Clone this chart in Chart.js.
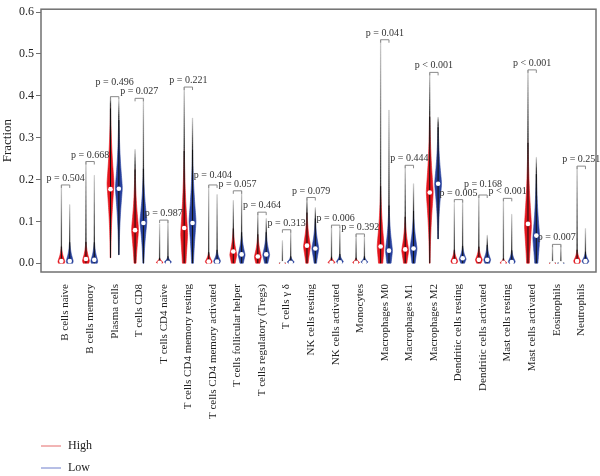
<!DOCTYPE html>
<html>
<head>
<meta charset="utf-8">
<script src="https://cdn.jsdelivr.net/npm/chart.js@4.4.1/dist/chart.umd.min.js"></script>
<style>
  html, body { margin: 0; background: #ffffff; }
</style>
</head>
<body>
<canvas id="chart" width="600" height="476"></canvas>
<script>
const categories = [
  "B cells naive", "B cells memory", "Plasma cells", "T cells CD8", "T cells CD4 naive",
  "T cells CD4 memory resting", "T cells CD4 memory activated", "T cells follicular helper",
  "T cells regulatory (Tregs)", "T cells γ δ", "NK cells resting", "NK cells activated",
  "Monocytes", "Macrophages M0", "Macrophages M1", "Macrophages M2", "Dendritic cells resting",
  "Dendritic cells activated", "Mast cells resting", "Mast cells activated", "Eosinophils", "Neutrophils"
];

// violin summaries (fraction units)
const highMax = [0.187, 0.243, 0.398, 0.272, 0.094, 0.421, 0.187, 0.150, 0.122, 0.054, 0.157, 0.091, 0.070, 0.534, 0.234, 0.456, 0.143, 0.163, 0.155, 0.462, 0.045, 0.232];
const lowMax  = [0.140, 0.210, 0.390, 0.394, 0.103, 0.347, 0.164, 0.173, 0.107, 0.080, 0.133, 0.085, 0.066, 0.366, 0.190, 0.349, 0.152, 0.067, 0.117, 0.253, 0.045, 0.083];
const highMin = [0, 0, 0.013, 0, 0, 0, 0, 0, 0, 0, 0, 0, 0, 0, 0, 0, 0, 0, 0, 0, 0, 0];
const lowMin  = [0, 0, 0.020, 0, 0, 0, 0, 0, 0, 0, 0, 0, 0, 0, 0, 0.058, 0, 0, 0, 0, 0, 0];
const highMedian = [0.005, 0.010, 0.177, 0.079, 0.001, 0.084, 0.004, 0.028, 0.016, 0.000, 0.042, 0.001, 0.001, 0.040, 0.033, 0.169, 0.005, 0.008, 0.001, 0.094, 0.000, 0.005];
const lowMedian  = [0.005, 0.008, 0.178, 0.096, 0.001, 0.096, 0.004, 0.021, 0.021, 0.001, 0.035, 0.002, 0.002, 0.030, 0.035, 0.190, 0.012, 0.008, 0.003, 0.066, 0.000, 0.005];
const highPeak = [0.004, 0.006, 0.190, 0.080, 0.002, 0.070, 0.004, 0.020, 0.015, 0.000, 0.040, 0.002, 0.002, 0.040, 0.030, 0.170, 0.005, 0.008, 0.001, 0.090, 0.000, 0.005];
const lowPeak  = [0.005, 0.005, 0.180, 0.100, 0.003, 0.100, 0.005, 0.020, 0.020, 0.003, 0.035, 0.004, 0.003, 0.030, 0.035, 0.190, 0.010, 0.008, 0.004, 0.060, 0.000, 0.005];
const highSpread = [0.040, 0.050, 0.200, 0.160, 0.012, 0.220, 0.025, 0.070, 0.060, 0.002, 0.090, 0.015, 0.012, 0.160, 0.090, 0.200, 0.030, 0.035, 0.012, 0.220, 0.002, 0.030];
const lowSpread  = [0.050, 0.050, 0.180, 0.140, 0.015, 0.190, 0.030, 0.060, 0.060, 0.015, 0.080, 0.020, 0.015, 0.120, 0.100, 0.150, 0.035, 0.040, 0.030, 0.170, 0.002, 0.025];
const pLabels = [
  "p = 0.504", "p = 0.668", "p = 0.496", "p = 0.027", "p = 0.987", "p = 0.221", "p = 0.404",
  "p = 0.057", "p = 0.464", "p = 0.313", "p = 0.079", "p = 0.006", "p = 0.392", "p = 0.041",
  "p = 0.444", "p < 0.001", "p = 0.005", "p = 0.168", "p < 0.001", "p < 0.001", "p = 0.007", "p = 0.251"
];
const yTicks = [0, 0.1, 0.2, 0.3, 0.4, 0.5, 0.6];

const SERIF = '"Liberation Serif", "Times New Roman", serif';
const HIGH_COLOR = "#e3141c";
const LOW_COLOR = "#27409c";
const OFFSET = 0.17;
const HALF = 0.14;

function profile(v, peak, spread) {
  const u = Math.abs(v - peak) / Math.max(spread, 0.0001);
  return Math.exp(-3 * Math.pow(u, 1.3));
}

function drawViolin(ctx, xs, ys, cx, vmin, vmax, peak, spread, color) {
  const steps = 80;
  const xc = xs.getPixelForValue(cx);
  const halfPx = Math.abs(xs.getPixelForValue(HALF) - xs.getPixelForValue(0));
  const pts = [];
  for (let k = 0; k <= steps; k++) {
    const v = vmin + (vmax - vmin) * k / steps;
    pts.push([ys.getPixelForValue(v), Math.max(0.2, halfPx * profile(v, peak, spread))]);
  }
  const yBot = ys.getPixelForValue(vmin);
  const yTop = ys.getPixelForValue(vmax);
  const stop = v => Math.min(1, Math.max(0, (v - vmin) / (vmax - vmin)));
  const fade = stop(peak + 0.5 * spread);
  const dark = Math.max(fade, stop(peak + 0.95 * spread));
  const grad = ctx.createLinearGradient(0, yBot, 0, yTop);
  grad.addColorStop(0, color);
  grad.addColorStop(fade, color);
  grad.addColorStop(dark, "#111111");
  grad.addColorStop(1, "#c4c4c4");

  ctx.beginPath();
  pts.forEach(([y, w], k) => k === 0 ? ctx.moveTo(xc - w, y) : ctx.lineTo(xc - w, y));
  for (let k = pts.length - 1; k >= 0; k--) ctx.lineTo(xc + pts[k][1], pts[k][0]);
  ctx.closePath();
  ctx.fillStyle = grad;
  ctx.fill();
  ctx.strokeStyle = grad;
  ctx.lineWidth = 0.6;
  ctx.stroke();

  // inner box line
  ctx.beginPath();
  ctx.moveTo(xc, yBot);
  ctx.lineTo(xc, ys.getPixelForValue(Math.min(vmax, peak + 0.9 * spread)));
  ctx.strokeStyle = "#111111";
  ctx.lineWidth = 1;
  ctx.stroke();
}

function placeLabels(ctx, xs, ys) {
  // start just above each bracket, lift a label when it collides with its left neighbour
  const boxes = categories.map((c, i) => {
    const yb = ys.getPixelForValue(Math.max(highMax[i], lowMax[i]));
    const w = ctx.measureText(pLabels[i]).width;
    const cx = xs.getPixelForValue(i);
    return { i, yb, base: yb - 4, left: cx - w / 2, right: cx + w / 2, cx };
  });
  for (let k = 1; k < boxes.length; k++) {
    const a = boxes[k - 1], b = boxes[k];
    const xOverlap = Math.min(a.right, b.right) - Math.max(a.left, b.left);
    const yOverlap = Math.min(a.base + 1, b.base + 1) - Math.max(a.base - 8, b.base - 8);
    if (xOverlap > 2 && yOverlap > 3) {
      if (a.yb < b.yb) a.base = b.base - 9; else b.base = a.base - 9;
    }
  }
  return boxes;
}

const violinPlugin = {
  id: "violins",
  beforeDatasetsDraw(chart) {
    const { ctx, scales: { x, y }, chartArea } = chart;
    ctx.save();
    ctx.beginPath();
    ctx.rect(chartArea.left, chartArea.top, chartArea.width, chartArea.height);
    ctx.clip();
    categories.forEach((c, i) => {
      drawViolin(ctx, x, y, i - OFFSET, highMin[i], highMax[i], highPeak[i], highSpread[i], HIGH_COLOR);
      drawViolin(ctx, x, y, i + OFFSET, lowMin[i], lowMax[i], lowPeak[i], lowSpread[i], LOW_COLOR);

      // comparison bracket
      const xl = x.getPixelForValue(i - OFFSET);
      const xr = x.getPixelForValue(i + OFFSET);
      const yb = y.getPixelForValue(Math.max(highMax[i], lowMax[i]));
      ctx.beginPath();
      ctx.moveTo(xl, yb + 3);
      ctx.lineTo(xl, yb);
      ctx.lineTo(xr, yb);
      ctx.lineTo(xr, yb + 3);
      ctx.strokeStyle = "#8a8a8a";
      ctx.lineWidth = 1;
      ctx.stroke();
    });
    ctx.restore();

    ctx.save();
    ctx.font = "10px " + SERIF;
    ctx.fillStyle = "#333333";
    ctx.textAlign = "center";
    ctx.textBaseline = "alphabetic";
    placeLabels(ctx, x, y).forEach(b => ctx.fillText(pLabels[b.i], b.cx, b.base));
    ctx.restore();
  },
  afterDraw(chart) {
    const { ctx, chartArea } = chart;
    ctx.save();
    ctx.strokeStyle = "#707070";
    ctx.lineWidth = 1.5;
    ctx.strokeRect(chartArea.left, chartArea.top, chartArea.width, chartArea.height);

    // legend
    const items = [["High", "#e46a6a", 446], ["Low", "#6f7fcc", 468]];
    ctx.font = "12px " + SERIF;
    ctx.textAlign = "left";
    ctx.textBaseline = "middle";
    items.forEach(([label, col, yy]) => {
      ctx.beginPath();
      ctx.moveTo(41, yy);
      ctx.lineTo(61, yy);
      ctx.strokeStyle = col;
      ctx.lineWidth = 1;
      ctx.stroke();
      ctx.fillStyle = "#222222";
      ctx.fillText(label, 68, yy);
    });
    ctx.restore();
  }
};

new Chart(document.getElementById("chart").getContext("2d"), {
  type: "scatter",
  data: {
    datasets: [
      {
        label: "High",
        data: highMedian.map((v, i) => ({ x: i - OFFSET, y: v })),
        pointRadius: 2.3,
        pointBackgroundColor: "#ffffff",
        pointBorderWidth: 0,
      },
      {
        label: "Low",
        data: lowMedian.map((v, i) => ({ x: i + OFFSET, y: v })),
        pointRadius: 2.3,
        pointBackgroundColor: "#ffffff",
        pointBorderWidth: 0,
      },
    ],
  },
  options: {
    responsive: false,
    animation: false,
    layout: { padding: { top: 4, right: 1, left: 0, bottom: 0 } },
    plugins: { legend: { display: false }, tooltip: { enabled: false } },
    scales: {
      x: {
        type: "linear",
        min: -1,
        max: 21.6,
        afterBuildTicks: s => { s.ticks = categories.map((c, i) => ({ value: i })); },
        afterFit: s => { s.height = 204; },
        grid: { display: false },
        border: { display: false },
        ticks: {
          autoSkip: false,
          minRotation: 90,
          maxRotation: 90,
          padding: 4,
          color: "#222222",
          font: { family: SERIF, size: 11 },
          callback: v => categories[v] ?? "",
        },
      },
      y: {
        min: -0.021,
        max: 0.607,
        afterBuildTicks: s => { s.ticks = yTicks.map(v => ({ value: v })); },
        afterFit: s => { s.width = 41; },
        grid: { drawOnChartArea: false, tickLength: 5, color: "#707070" },
        border: { display: false },
        ticks: {
          padding: 2,
          color: "#222222",
          font: { family: SERIF, size: 12 },
          callback: v => v.toFixed(1),
        },
        title: {
          display: true,
          text: "Fraction",
          color: "#222222",
          padding: 0,
          font: { family: SERIF, size: 13 },
        },
      },
    },
  },
  plugins: [violinPlugin],
});
</script>
</body>
</html>
